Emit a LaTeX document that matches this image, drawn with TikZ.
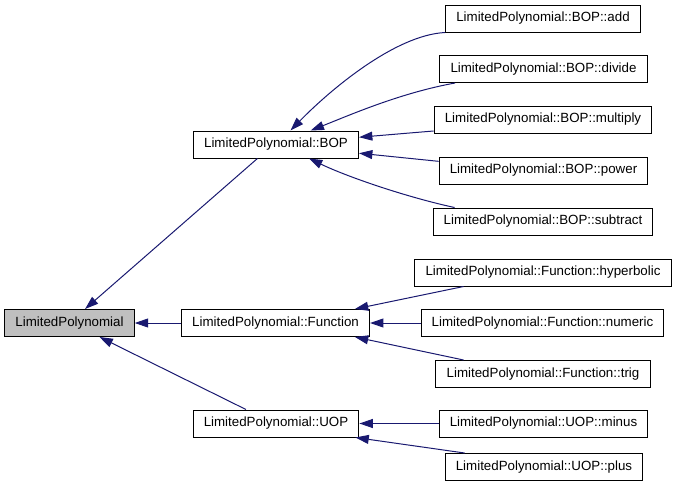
\documentclass[tikz,border=0pt]{standalone}
\usepackage{fontspec}
\setmainfont{Liberation Sans}
\usetikzlibrary{arrows.meta}
\definecolor{midblue}{HTML}{191970}
\begin{document}
\begin{tikzpicture}[x=0.75pt,y=-0.75pt,
  cls/.style={draw=black,line width=0.75pt,fill=white,font=\fontsize{10}{12}\selectfont,
    inner xsep=8pt,inner ysep=0pt,minimum height=20.25pt},
  inherit/.style={draw=midblue,line width=0.75pt,{Triangle[length=10pt,width=6.7pt]}-}]
\useasboundingbox (0,0) rectangle (675,493);
\node[cls,fill=black!25] (lp) at (69.5,323) {LimitedPolynomial};
\node[cls] (bop) at (276,144.5) {LimitedPolynomial::BOP};
\node[cls] (fn) at (275.5,323) {LimitedPolynomial::Function};
\node[cls] (uop) at (276,423.5) {LimitedPolynomial::UOP};
\node[cls] (add) at (543,18.5) {LimitedPolynomial::BOP::add};
\node[cls] (divide) at (543.5,69) {LimitedPolynomial::BOP::divide};
\node[cls] (multiply) at (543,119.5) {LimitedPolynomial::BOP::multiply};
\node[cls] (power) at (543.5,170.5) {LimitedPolynomial::BOP::power};
\node[cls] (subtract) at (543,221.5) {LimitedPolynomial::BOP::subtract};
\node[cls] (hyp) at (543,272.5) {LimitedPolynomial::Function::hyperbolic};
\node[cls] (num) at (542.5,323) {LimitedPolynomial::Function::numeric};
\node[cls] (trig) at (543,374) {LimitedPolynomial::Function::trig};
\node[cls] (minus) at (543.5,423.5) {LimitedPolynomial::UOP::minus};
\node[cls] (plus) at (544,467) {LimitedPolynomial::UOP::plus};
\draw[inherit] (lp.42) -- (bop.217);
\draw[inherit] (lp.east) -- (fn.west);
\draw[inherit] (lp.-25) -- (uop.155);
\draw[inherit] (bop.44) .. controls (330,90) and (395,35) .. (add.south west);
\draw[inherit] (bop.22) .. controls (350,115) and (400,93) .. (divide.189);
\draw[inherit] (bop.5) -- (multiply.186);
\draw[inherit] (bop.-6) -- (power.175);
\draw[inherit] (bop.-23) .. controls (350,178) and (410,198) .. (subtract.171);
\draw[inherit] (fn.10) -- (hyp.190);
\draw[inherit] (fn.east) -- (num.west);
\draw[inherit] (fn.-10) -- (trig.170);
\draw[inherit] (uop.east) -- (minus.west);
\draw[inherit] (uop.-10) -- (plus.170);
\end{tikzpicture}
\end{document}
